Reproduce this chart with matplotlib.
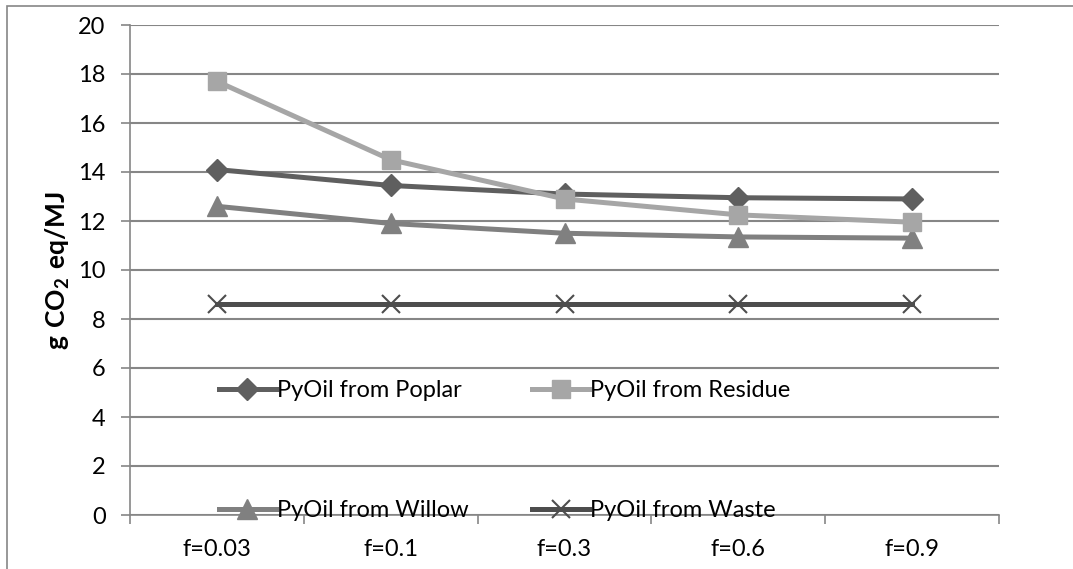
import numpy as np
import matplotlib
matplotlib.use("Agg")
import matplotlib.pyplot as plt
from matplotlib.patches import Rectangle

# ------------------------------------------------------------
# data
# ------------------------------------------------------------
categories = ["f=0.03", "f=0.1", "f=0.3", "f=0.6", "f=0.9"]

poplar = [14.1, 13.45, 13.1, 12.95, 12.9]
residue = [17.7, 14.5, 12.9, 12.25, 11.95]
willow = [12.6, 11.9, 11.5, 11.35, 11.3]
waste = [8.6, 8.6, 8.6, 8.6, 8.6]

plt.rcParams["font.family"] = ["Lato", "DejaVu Sans"]
plt.rcParams["mathtext.fontset"] = "custom"
plt.rcParams["mathtext.bf"] = "Lato:bold"
plt.rcParams["mathtext.rm"] = "Lato"

fig = plt.figure(figsize=(10.73, 5.69), dpi=100)
ax = fig.add_axes([130 / 1073, 1 - 515 / 569, (999 - 130) / 1073, (515 - 25) / 569])

x = np.arange(len(categories))

ax.plot(x, poplar, color="#5f5f5f", lw=3.6, marker="D", ms=11,
        label="PyOil from Poplar", zorder=4)
ax.plot(x, willow, color="#808080", lw=3.6, marker="^", ms=14,
        label="PyOil from Willow", zorder=3)
ax.plot(x, residue, color="#a6a6a6", lw=3.6, marker="s", ms=13,
        label="PyOil from Residue", zorder=5)
ax.plot(x, waste, color="#4d4d4d", lw=3.6, marker="x", ms=13, mew=1.5,
        label="PyOil from Waste", zorder=3)

ax.set_xlim(-0.5, len(categories) - 0.5)
ax.set_ylim(0, 20)
ax.set_yticks(np.arange(0, 21, 2))

# ticks between categories, labels at centres
ax.set_xticks(np.arange(-0.5, len(categories), 1))
ax.set_xticklabels([])
ax.set_xticks(x, minor=True)
ax.set_xticklabels(categories, minor=True)
ax.tick_params(axis="x", which="major", length=6.5, color="#868686", width=1.2)
ax.tick_params(axis="x", which="minor", length=0, labelsize=17, pad=17)
ax.tick_params(axis="y", length=6.5, color="#868686", width=1.2, labelsize=17, pad=11)

ax.grid(axis="y", color="#868686", lw=1.5)
ax.set_axisbelow(True)
for s in ["top", "right"]:
    ax.spines[s].set_visible(False)
for s in ["left", "bottom"]:
    ax.spines[s].set_color("#868686")
    ax.spines[s].set_linewidth(1.2)

# y label placed at the centre of the axis
fig.text(58 / 1073, 1 - 270 / 569, r"$\mathbf{g\ CO_2\ eq/MJ}$", fontsize=19,
         rotation=90, ha="center", va="center")

leg = ax.legend(loc="upper left", bbox_to_anchor=(219 / 1073, 1 - 380 / 569),
                bbox_transform=fig.transFigure, ncol=2, frameon=False,
                fontsize=17, handlelength=2.4, handletextpad=0.05,
                columnspacing=2.7, labelspacing=4.2, borderpad=0,
                borderaxespad=0)

# outer chart frame
fig.add_artist(Rectangle((7 / 1073, -0.1), 1.2, 1.1 - 6 / 569,
                         transform=fig.transFigure, fill=False,
                         edgecolor="#868686", lw=1.2))

fig.savefig("out.png", dpi=100)
